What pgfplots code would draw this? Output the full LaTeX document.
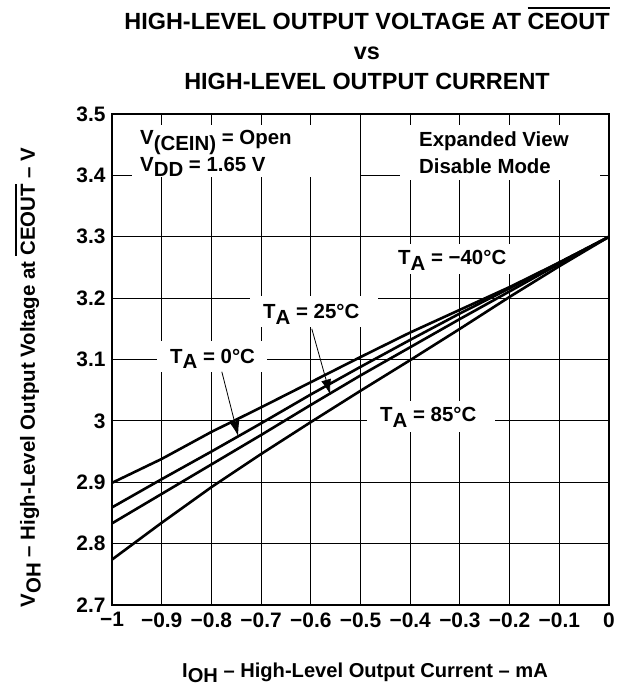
\documentclass[border=0pt]{standalone}
\usepackage{fontspec}
\setmainfont{Liberation Sans}
\usepackage{pgfplots}
\pgfplotsset{compat=1.18}
\usetikzlibrary{arrows.meta}
\newcommand{\sub}[1]{\raisebox{-0.28em}{#1}}
\newcommand{\ovl}[2]{\vbox{\hrule height 1.6pt\kern #1\hbox{#2}}}
\newcommand{\fs}[1]{\fontsize{#1}{#1}\selectfont}
\begin{document}
\begin{tikzpicture}
\path[use as bounding box] (-112bp,-83bp) rectangle (517bp,605bp);
\begin{axis}[
  at={(0,0)}, anchor=south west,
  width=497bp, height=491bp, scale only axis,
  xmin=-1, xmax=0, ymin=2.7, ymax=3.5,
  xtick={-1,-0.9,-0.8,-0.7,-0.6,-0.5,-0.4,-0.3,-0.2,-0.1,0},
  xticklabels={−1,−0.9,−0.8,−0.7,−0.6,−0.5,−0.4,−0.3,−0.2,−0.1,0},
  ytick={2.7,2.8,2.9,3,3.1,3.2,3.3,3.4,3.5},
  yticklabels={2.7,2.8,2.9,3,3.1,3.2,3.3,3.4,3.5},
  grid=major,
  major grid style={black, line width=0.9bp},
  major tick length=0pt,
  axis line style={black, line width=1.8bp},
  tick label style={font=\bfseries\fs{21}},
  xticklabel style={yshift=-4bp},
  yticklabel style={xshift=-3bp},
]
% white label backgrounds
\fill[white] (axis cs:-0.9598,3.3973) rectangle (axis cs:-0.501,3.4815);
\fill[white] (axis cs:-0.4205,3.3917) rectangle (axis cs:-0.0181,3.4815);
\fill[white] (axis cs:-0.4346,3.2401) rectangle (axis cs:-0.1992,3.2878);
\fill[white] (axis cs:-0.7223,3.1531) rectangle (axis cs:-0.4648,3.2036);
\fill[white] (axis cs:-0.9095,3.0801) rectangle (axis cs:-0.6881,3.1306);
\fill[white] (axis cs:-0.4869,2.9818) rectangle (axis cs:-0.2294,3.0324);
% curves
\addplot[black, line width=2.6bp] coordinates {
(-1,2.899) (-0.9,2.938) (-0.8,2.982) (-0.7,3.022) (-0.6,3.063) (-0.5,3.104)
(-0.4,3.144) (-0.3,3.181) (-0.2,3.218) (-0.1,3.258) (0,3.3)};
\addplot[black, line width=2.6bp] coordinates {
(-1,2.859) (-0.9,2.905) (-0.8,2.950) (-0.7,2.996) (-0.6,3.043) (-0.5,3.088)
(-0.4,3.132) (-0.3,3.175) (-0.2,3.216) (-0.1,3.258) (0,3.3)};
\addplot[black, line width=2.6bp] coordinates {
(-1,2.833) (-0.9,2.881) (-0.8,2.929) (-0.7,2.977) (-0.6,3.026) (-0.5,3.074)
(-0.4,3.120) (-0.3,3.166) (-0.2,3.211) (-0.1,3.256) (0,3.3)};
\addplot[black, line width=2.6bp] coordinates {
(-1,2.774) (-0.9,2.834) (-0.8,2.892) (-0.7,2.946) (-0.6,2.998) (-0.5,3.049)
(-0.4,3.099) (-0.3,3.150) (-0.2,3.202) (-0.1,3.252) (0,3.3)};
% arrows
\draw[black, line width=0.8bp, -{Latex[length=15bp,width=10bp]}] (axis cs:-0.779,3.080) -- (axis cs:-0.746,2.975);
\draw[black, line width=0.8bp, -{Latex[length=15bp,width=10bp]}] (axis cs:-0.598,3.150) -- (axis cs:-0.561,3.043);
% texts
\begin{scope}[every node/.style={inner sep=0pt, anchor=base west, font=\bfseries\fs{20.5}}]
\node at (axis cs:-0.9437,3.4506) {V\sub{(CEIN)} = Open};
\node at (axis cs:-0.9437,3.4068) {V\sub{DD} = 1.65 V};
\node at (axis cs:-0.3823,3.4478) {Expanded View};
\node at (axis cs:-0.3823,3.4029) {Disable Mode};
\node at (axis cs:-0.4245,3.2541) {T\sub{A} = −40°C};
\node at (axis cs:-0.6962,3.1671) {T\sub{A} = 25°C};
\node at (axis cs:-0.8833,3.0941) {T\sub{A} = 0°C};
\node at (axis cs:-0.4608,2.9987) {T\sub{A} = 85°C};
\end{scope}
\end{axis}
% titles
\begin{scope}[every node/.style={inner sep=0pt, anchor=base, font=\bfseries\fs{23.5}}]
\node at (255bp,575bp) {HIGH-LEVEL OUTPUT VOLTAGE AT \ovl{5pt}{CEOUT}};
\node at (255bp,545bp) {vs};
\node at (255bp,515bp) {HIGH-LEVEL OUTPUT CURRENT};
\end{scope}
\node[inner sep=0pt, anchor=base, font=\bfseries\fs{20.2}] at (253bp,-72bp) {I\sub{OH} – High-Level Output Current – mA};
\node[inner sep=0pt, anchor=base, rotate=90, font=\bfseries\fs{20.5}] at (-77bp,227.5bp) {V\sub{OH} – High-Level Output Voltage at \ovl{4pt}{CEOUT} – V};
\end{tikzpicture}
\end{document}
